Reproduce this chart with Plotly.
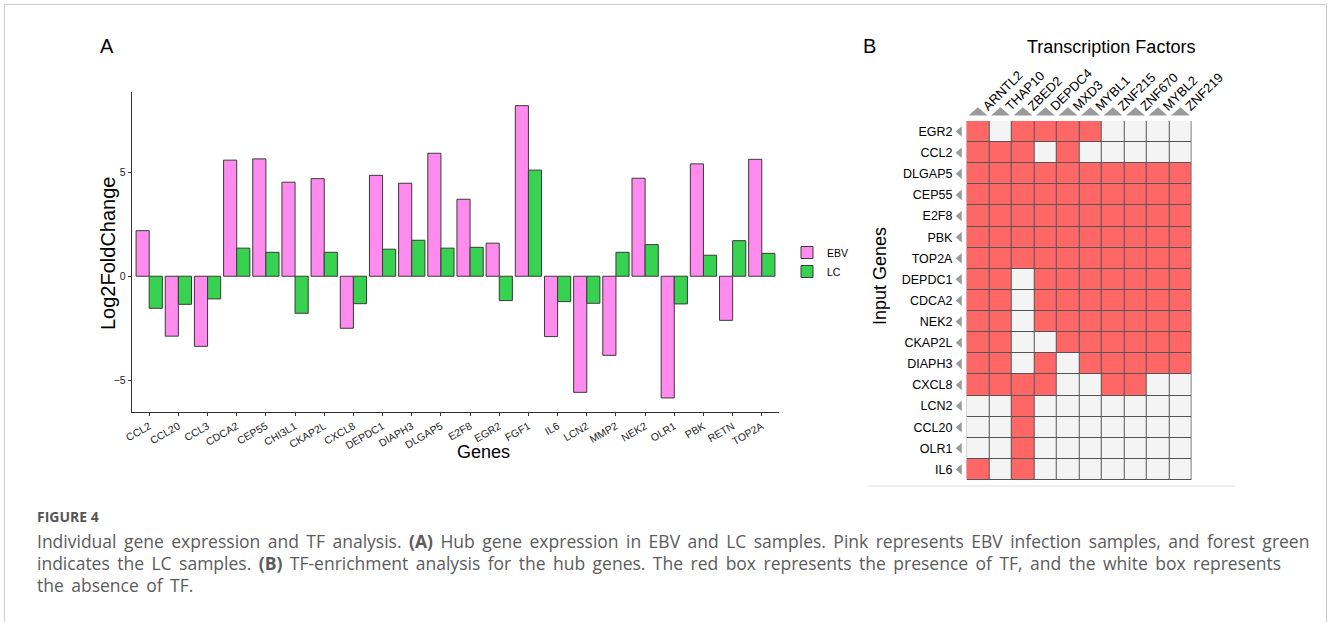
import plotly.graph_objects as go

# ---------------- data ----------------
genes = ["CCL2", "CCL20", "CCL3", "CDCA2", "CEP55", "CHI3L1", "CKAP2L", "CXCL8",
         "DEPDC1", "DIAPH3", "DLGAP5", "E2F8", "EGR2", "FGF1", "IL6", "LCN2",
         "MMP2", "NEK2", "OLR1", "PBK", "RETN", "TOP2A"]
ebv_lfc = [2.19, -2.88, -3.37, 5.58, 5.64, 4.52, 4.69, -2.50,
           4.85, 4.47, 5.91, 3.70, 1.59, 8.20, -2.90, -5.58,
           -3.80, 4.71, -5.85, 5.40, -2.12, 5.62]
lc_lfc = [-1.54, -1.35, -1.09, 1.35, 1.15, -1.78, 1.15, -1.32,
          1.30, 1.73, 1.35, 1.39, -1.17, 5.10, -1.22, -1.30,
          1.15, 1.52, -1.33, 1.01, 1.71, 1.10]
y_ticks = [-5, 0, 5]

tf_names = ["ARNTL2", "THAP10", "ZBED2", "DEPDC4", "MXD3",
            "MYBL1", "ZNF215", "ZNF670", "MYBL2", "ZNF219"]
input_genes = ["EGR2", "CCL2", "DLGAP5", "CEP55", "E2F8", "PBK", "TOP2A",
               "DEPDC1", "CDCA2", "NEK2", "CKAP2L", "DIAPH3", "CXCL8",
               "LCN2", "CCL20", "OLR1", "IL6"]
tf_presence = [
    [1, 0, 1, 1, 1, 1, 0, 0, 0, 0],  # EGR2
    [1, 1, 1, 0, 1, 0, 0, 0, 0, 0],  # CCL2
    [1, 1, 1, 1, 1, 1, 1, 1, 1, 1],  # DLGAP5
    [1, 1, 1, 1, 1, 1, 1, 1, 1, 1],  # CEP55
    [1, 1, 1, 1, 1, 1, 1, 1, 1, 1],  # E2F8
    [1, 1, 1, 1, 1, 1, 1, 1, 1, 1],  # PBK
    [1, 1, 1, 1, 1, 1, 1, 1, 1, 1],  # TOP2A
    [1, 1, 0, 1, 1, 1, 1, 1, 1, 1],  # DEPDC1
    [1, 1, 0, 1, 1, 1, 1, 1, 1, 1],  # CDCA2
    [1, 1, 0, 1, 1, 1, 1, 1, 1, 1],  # NEK2
    [1, 1, 0, 0, 1, 1, 1, 1, 1, 1],  # CKAP2L
    [1, 1, 0, 1, 0, 1, 1, 1, 1, 1],  # DIAPH3
    [1, 1, 1, 1, 0, 0, 1, 1, 0, 0],  # CXCL8
    [0, 0, 1, 0, 0, 0, 0, 0, 0, 0],  # LCN2
    [0, 0, 1, 0, 0, 0, 0, 0, 0, 0],  # CCL20
    [0, 0, 1, 0, 0, 0, 0, 0, 0, 0],  # OLR1
    [1, 0, 1, 0, 0, 0, 0, 0, 0, 0],  # IL6
]

caption_lines = [
    "Individual gene expression and TF analysis. <b>(A)</b> Hub gene expression in EBV and LC samples. "
    "Pink represents EBV infection samples, and forest green",
    "indicates the LC samples. <b>(B)</b> TF-enrichment analysis for the hub genes. The red box represents "
    "the presence of TF, and the white box represents",
    "the absence of TF.",
]

# ---------------- layout helpers ----------------
W, H = 1328, 622
def px(x):
    return x / W
def py(y):
    return 1 - y / H

FONT = "Liberation Sans, Arial, sans-serif"
PINK = "#FF8BEE"
GREEN = "#37D24F"
RED = "#FF6666"
OFF = "#F4F4F4"

fig = go.Figure()

# ---------------- panel A: bars ----------------
fig.add_trace(go.Bar(x=genes, y=ebv_lfc, name="EBV", marker=dict(color=PINK, line=dict(color="#3a3a3a", width=1)),
                     xaxis="x", yaxis="y"))
fig.add_trace(go.Bar(x=genes, y=lc_lfc, name="LC", marker=dict(color=GREEN, line=dict(color="#3a3a3a", width=1)),
                     xaxis="x", yaxis="y"))

# ---------------- panel B: TF heatmap ----------------
n_tf = len(tf_names)
n_gene = len(input_genes)
fig.add_trace(go.Heatmap(
    z=tf_presence, x=list(range(n_tf)), y=list(range(n_gene)),
    colorscale=[[0, OFF], [1, RED]], zmin=0, zmax=1, showscale=False,
    xgap=1, ygap=1, hoverinfo="skip", xaxis="x2", yaxis="y2"))

# header triangles (one per TF column, one per gene row)
tx, ty = [], []
for c in range(n_tf):
    tx += [c - 0.42, c + 0.42, c, c - 0.42, None]
    ty += [-0.76, -0.76, -1.15, -0.76, None]
for r in range(n_gene):
    tx += [-0.72, -0.72, -0.99, -0.72, None]
    ty += [r - 0.25, r + 0.25, r, r - 0.25, None]
fig.add_trace(go.Scatter(x=tx, y=ty, mode="lines", fill="toself", fillcolor="#9a9a9a",
                         line=dict(width=0, color="#9a9a9a"), showlegend=False, hoverinfo="skip",
                         xaxis="x2", yaxis="y2"))

fig.update_layout(
    width=W, height=H, autosize=False,
    margin=dict(l=0, r=0, t=0, b=0, pad=0, autoexpand=False),
    paper_bgcolor="white", plot_bgcolor="white",
    font=dict(family=FONT, color="#000000"),
    barmode="group", bargap=0.1, bargroupgap=0,
    showlegend=True,
    legend=dict(x=px(787), y=py(238), xanchor="left", yanchor="top",
                font=dict(size=10.5, family=FONT), bgcolor="rgba(0,0,0,0)",
                tracegroupgap=0, itemwidth=30),
    xaxis=dict(domain=[px(131.7), px(779.3)], range=[-0.6, 21.6], anchor="y", automargin=False,
               showline=True, linecolor="#333333", linewidth=1, ticks="outside",
               ticklen=3, tickcolor="#333333", tickangle=-30,
               tickfont=dict(size=10.5, family=FONT, color="#222222"),
               showgrid=False, zeroline=False),
    yaxis=dict(domain=[py(412.3), py(91.7)], range=[-6.54, 8.87], anchor="x", automargin=False,
               showline=True, linecolor="#333333", linewidth=1, ticks="outside",
               ticklen=3, tickcolor="#333333", tickvals=y_ticks,
               tickfont=dict(size=10.5, family=FONT, color="#222222"),
               showgrid=False, zeroline=False),
    xaxis2=dict(domain=[px(955.45), px(1191.7)], range=[-1.0, 9.5], anchor="free", position=py(116),
                side="top", automargin=False,
                tickvals=[c + 0.25 for c in range(n_tf)], ticktext=tf_names, tickangle=-45,
                tickfont=dict(size=13, family=FONT), ticks="", showline=False,
                showgrid=False, zeroline=False, ticklabelstandoff=0),
    yaxis2=dict(domain=[py(480), py(106.2)], range=[16.5, -1.2], anchor="x2", automargin=False,
                tickvals=list(range(n_gene)), ticktext=input_genes,
                tickfont=dict(size=12.5, family=FONT), ticks="", showline=False,
                showgrid=False, zeroline=False, ticklabelstandoff=2),
)

# dark underlay that shows through heatmap gaps as cell borders
fig.add_shape(type="rect", xref="x2", yref="y2", x0=-0.5, x1=n_tf - 0.5, y0=-0.5, y1=n_gene - 0.5,
              fillcolor="#555555", line=dict(width=0), layer="below")
# faint rule under panel B
fig.add_shape(type="line", xref="paper", yref="paper", x0=px(868), x1=px(1235), y0=py(486), y1=py(486),
              line=dict(color="#EEEEEE", width=2))
# outer figure frame
fig.add_shape(type="rect", xref="paper", yref="paper", x0=px(4.5), x1=px(1326.5), y0=py(640), y1=py(4.5),
              line=dict(color="#CCCCCC", width=1), fillcolor="rgba(0,0,0,0)")

ann = []
ann.append(dict(text="A", x=px(107), y=py(46), font=dict(size=20, family=FONT)))
ann.append(dict(text="B", x=px(869), y=py(46), font=dict(size=20, family=FONT)))
ann.append(dict(text="Log2FoldChange", x=px(108), y=py(254), textangle=-90, font=dict(size=20, family=FONT)))
ann.append(dict(text="Genes", x=px(483), y=py(452), font=dict(size=18, family=FONT)))
ann.append(dict(text="Transcription Factors", x=px(1111), y=py(47), font=dict(size=18, family=FONT)))
ann.append(dict(text="Input Genes", x=px(880), y=py(276), textangle=-90, font=dict(size=18, family=FONT)))
ann.append(dict(text="<b>FIGURE 4</b>", x=px(35), y=py(516), xanchor="left",
                font=dict(size=14, family="Open Sans", color="#555555")))
for i, line in enumerate(caption_lines):
    wide = line.replace(" ", " \u2009")   # the source caption uses wider word spacing
    ann.append(dict(text=wide, x=px(35), y=py(541 + 22 * i), xanchor="left",
                    font=dict(size=17.5, family="Open Sans", color="#5b5b5b")))
for a in ann:
    a.setdefault("xanchor", "center")
    a.update(xref="paper", yref="paper", yanchor="middle", showarrow=False)
fig.update_layout(annotations=ann)

post = ("document.body.style.margin='0';document.body.style.padding='0';"
        "document.body.style.overflow='hidden';document.documentElement.style.overflow='hidden';")
fig.write_html("out.html", config={"responsive": False, "displayModeBar": False}, post_script=post)
